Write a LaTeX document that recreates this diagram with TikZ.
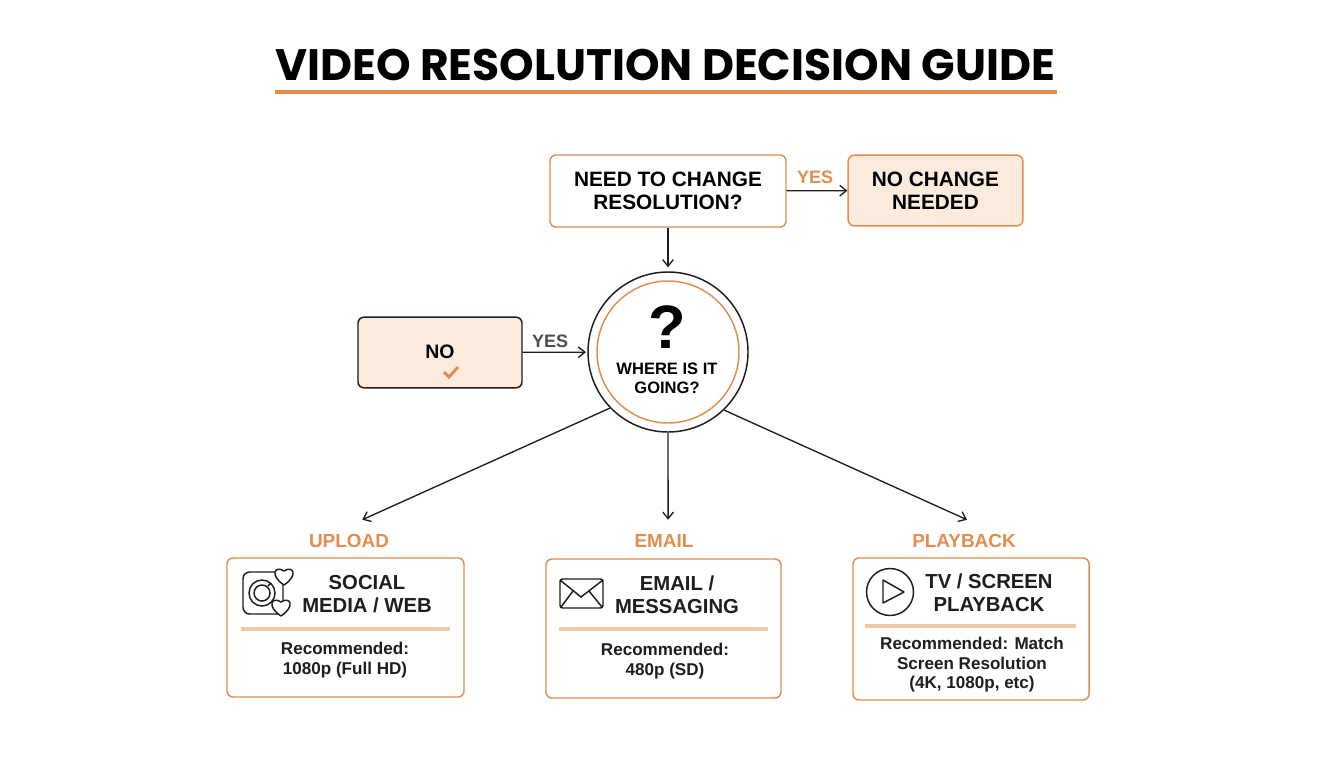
\documentclass[tikz,border=0pt]{standalone}
\usepackage{fontspec}
\setmainfont{Liberation Sans}
\newfontfamily\titlefont{Poppins}
\usetikzlibrary{arrows,arrows.meta,shapes}
\usetikzlibrary{positioning}
\definecolor{guideorange}{HTML}{E38D4E}
\definecolor{guidefill}{HTML}{FBEBDC}
\definecolor{guidedark}{HTML}{1E1E1E}
\definecolor{guidegray}{HTML}{4A4F55}
\definecolor{guiderule}{HTML}{EFC9A8}
\tikzset{
	conn/.style={-{Straight Barb[length=5pt,width=8pt]}, draw=guidedark, line width=1pt},
	askbox/.style={draw=guideorange, line width=1.1pt, fill=white, rounded corners=4.5pt, minimum width=177pt, minimum height=54pt, align=center, inner sep=0pt},
	endbox/.style={draw=guideorange, line width=1.1pt, fill=guidefill, rounded corners=4.5pt, minimum width=131pt, minimum height=53pt, align=center, inner sep=0pt},
	nobox/.style={draw=guidedark, line width=1.1pt, fill=guidefill, rounded corners=4.5pt, minimum width=123pt, minimum height=53pt, inner sep=0pt},
	card/.style={draw=guideorange, line width=1.1pt, fill=white, rounded corners=4.5pt, inner sep=0pt},
	cardhead/.style={font=\bfseries\fontsize{15.2}{17.3}\selectfont, align=center, text=guidedark, inner sep=0pt},
	cardtext/.style={font=\bfseries\fontsize{12.8}{14.6}\selectfont, align=center, text=guidedark, inner sep=0pt},
	tag/.style={font=\bfseries\fontsize{13.5}{16}\selectfont, text=guideorange, inner sep=0pt},
	branch/.style={font=\bfseries\fontsize{14.2}{16}\selectfont, text=guideorange, inner sep=0pt, minimum height=31.5pt, minimum width=60pt},
	icon/.style={draw=guidedark, line width=1.1pt},
	divider/.style={draw=guiderule, line width=2.4pt},
}
\begin{document}
\begin{tikzpicture}[x=.75pt, y=-.75pt]
	\useasboundingbox[fill=white] (0,0) rectangle (1344,768);
	\node[font=\titlefont\bfseries\fontsize{33}{38}\selectfont, inner sep=0pt] (title) at (665,65) {VIDEO RESOLUTION DECISION GUIDE};
	\draw[draw=guideorange, line width=3pt] (275,92) -- (1057,92);
	% top row
	\node[askbox, font=\bfseries\fontsize{15.6}{17.6}\selectfont] (need) at (668,191) {NEED TO CHANGE\\RESOLUTION?};
	\node[endbox, font=\bfseries\fontsize{15.6}{17.6}\selectfont] (nochange) at (935.5,190.5) {NO CHANGE\\NEEDED};
	\node[tag] (yestop) at (815,177) {YES};
	% centre
	\node[circle, draw=guidedark, line width=1.1pt, fill=white, minimum size=120pt, inner sep=0pt] (where) at (668,352) {};
	\node[circle, draw=guideorange, line width=1.1pt, minimum size=106.5pt, inner sep=0pt] (whereinner) at (668,352) {};
	\node[font=\bfseries\fontsize{46}{46}\selectfont, inner sep=0pt] (mark) at (667,327) {?};
	\node[font=\bfseries\fontsize{12.4}{14.4}\selectfont, align=center, inner sep=0pt] (going) at (667,378.5) {WHERE IS IT\\GOING?};
	\node[nobox] (no) at (440,352.5) {};
	\node[font=\bfseries\fontsize{14.6}{16}\selectfont, inner sep=0pt] (notext) at (440,352) {NO};
	\draw[draw=guideorange, line width=2.2pt] (444,372) -- (449,377) -- (458,367);
	\node[font=\bfseries\fontsize{13.5}{16}\selectfont, text=guidegray, inner sep=0pt] (yesleft) at (550,341) {YES};
	\draw[conn] (need) -- (nochange);
	\draw[conn, shorten >=3pt] (need) -- (where);
	\draw[conn, shorten >=1pt] (no) -- (where);
	% branches
	\node[branch] (upload) at (349,541) {UPLOAD};
	\node[branch] (email) at (664,541) {EMAIL};
	\node[branch] (playback) at (964,541) {PLAYBACK};
	\draw[conn] (where.224) -- (upload.58);
	\draw[conn] (where.south) -- (email.79);
	\draw[conn] (where.314) -- (playback.82);
	% cards
	\node[card, minimum width=177.75pt, minimum height=104.25pt] (social) at (345.5,627.5) {};
	\node[card, minimum width=176.25pt, minimum height=104.25pt] (mail) at (663.5,628.5) {};
	\node[card, minimum width=177pt, minimum height=106.5pt] (screen) at (971,629) {};
	\node[cardhead] (socialhead) at (367,594) {SOCIAL\\MEDIA / WEB};
	\node[cardhead] (mailhead) at (677,595) {EMAIL /\\MESSAGING};
	\node[cardhead] (screenhead) at (989,593) {TV / SCREEN\\PLAYBACK};
	\draw[divider] (241,629) -- (450,629);
	\draw[divider] (559,629) -- (768,629);
	\draw[divider] (865,626) -- (1076,626);
	\node[cardtext] (socialrec) at (345,660) {Recommended:\\1080p (Full HD)};
	\node[cardtext] (mailrec) at (665,661) {Recommended:\\480p (SD)};
	\node[cardtext] (screenrec) at (972,665) {Recommended: Match\\Screen Resolution\\(4K, 1080p, etc)};
	% social icon
	\draw[icon, rounded corners=5pt] (243,572) rectangle (283,614);
	\draw[icon] (262,593) circle (13);
	\draw[icon] (262,593) circle (8);
	\draw[icon] (268,586) -- (271,583);
	\foreach \hx/\hy in {284/576,281/607} {
		\begin{scope}[shift={(\hx,\hy)}]
			\draw[icon, fill=white] (0,9) .. controls (-15,-1) and (-9,-11) .. (0,-5) .. controls (9,-11) and (15,-1) .. (0,9);
		\end{scope}
	}
	% envelope
	\draw[icon, rounded corners=2pt] (560,579) rectangle (603,608);
	\draw[icon] (560,580) -- (581,597) -- (603,580);
	\draw[icon] (561,607) -- (573,591);
	\draw[icon] (602,607) -- (589,591);
	% play
	\draw[icon] (890,592) circle (23.5);
	\draw[icon, line join=round] (883,580) -- (904,592) -- (883,603) -- cycle;
\end{tikzpicture}
\end{document}
